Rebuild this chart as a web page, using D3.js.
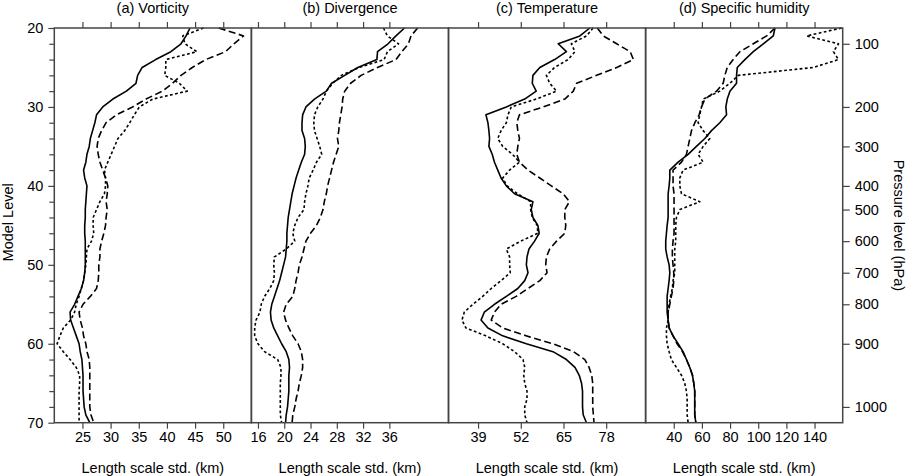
<!DOCTYPE html>
<html>
<head>
<meta charset="utf-8">
<script src="https://cdn.jsdelivr.net/npm/d3@7/dist/d3.min.js"></script>
<style>
  body { margin: 0; background: #fff; }
  text { font-family: "Liberation Sans", Arial, Helvetica, sans-serif; fill: #000; }
</style>
</head>
<body>
<svg id="chart" width="907" height="476"></svg>
<script>
// model levels (y categories)
var levels = [20,21,22,23,24,25,26,27,28,29,30,31,32,33,34,35,36,37,38,39,40,
              41,42,43,44,45,46,47,48,49,50,51,52,53,54,55,56,57,58,59,60,
              61,62,63,64,65,66,67,68,69,70];

// (a) vorticity
var vortSolid = [44.1,43.4,42.5,40.7,38.0,35.6,34.8,34.5,32.8,30.4,28.6,27.5,27.2,26.8,26.4,26.2,25.8,25.6,25.2,25.4,25.8,
                 25.7,25.6,25.5,25.5,25.4,25.4,25.5,25.5,25.5,25.5,25.4,25.2,24.8,24.2,23.6,22.8,22.9,23.4,23.9,24.4,
                 24.6,24.9,25.0,25.1,25.1,25.1,25.2,25.3,25.6,26.3];
var vortDash  = [49.2,53.6,51.9,50.4,46.9,44.5,42.5,41.0,39.2,36.3,33.9,31.0,29.2,28.4,27.8,27.6,27.8,28.1,28.6,29.1,29.5,
                 29.4,29.2,29.4,29.2,29.1,28.8,28.4,28.1,28.1,27.9,27.9,27.8,27.5,26.4,25.1,24.4,24.6,25.0,25.2,25.6,
                 25.8,26.2,26.3,26.3,26.3,26.3,26.3,26.3,26.5,27.0];
var vortDot   = [46.5,42.8,43.2,45.3,39.8,39.8,39.6,42.2,43.6,37.5,35.1,34.2,33.4,32.5,31.3,30.7,30.1,29.5,28.9,29.1,29.1,
                 28.9,28.1,27.5,26.9,26.9,27.0,26.6,25.8,25.7,25.6,25.4,25.2,24.8,24.4,23.9,23.6,22.9,21.6,21.0,20.5,
                 21.6,22.8,23.9,24.5,24.5,24.4,24.4,24.4,24.4,24.4];

// (b) divergence
var divSolid = [38.3,37.0,35.8,34.2,34.1,31.2,29.2,27.2,26.4,24.6,23.3,22.8,22.7,22.7,23.1,23.2,23.1,22.6,22.2,21.8,21.5,
                21.2,21.0,20.8,20.6,20.5,20.4,20.4,20.3,20.2,19.9,19.6,19.3,18.9,18.5,18.1,17.9,18.0,18.4,19.0,19.6,
                20.3,20.7,20.8,20.7,20.7,20.7,20.6,20.5,20.3,20.2];
var divDash  = [40.3,39.3,38.9,37.9,37.0,34.2,31.7,30.1,29.2,28.9,28.8,28.6,28.4,28.3,28.1,28.3,27.9,27.5,27.2,26.9,26.6,
                26.4,26.1,25.9,25.5,24.9,24.0,23.3,23.0,22.7,22.3,22.1,21.8,21.6,21.3,20.3,19.9,20.2,20.7,21.3,22.1,
                22.6,22.8,22.8,22.6,22.3,22.1,21.8,21.6,21.3,21.2];
var divDot   = [35.1,35.7,37.4,35.7,35.2,31.4,28.7,27.4,26.4,25.9,25.1,24.6,24.5,24.6,25.0,25.4,25.7,24.9,24.4,23.8,23.6,
                23.3,23.1,23.0,22.1,21.6,21.3,21.6,20.3,18.5,18.4,18.5,18.4,17.8,17.0,16.5,16.3,15.7,15.5,15.5,16.0,
                17.0,19.0,19.5,19.5,19.4,19.4,19.4,19.4,19.4,19.6];

// (c) temperature
var tempSolid = [73.0,70.0,63.4,65.9,62.3,57.8,55.7,55.5,56.7,53.2,47.6,41.4,42.0,42.3,42.5,42.3,43.3,44.0,45.0,46.0,47.6,
                 50.1,55.7,55.2,55.7,57.2,57.6,56.2,54.5,53.9,53.7,54.2,53.2,51.1,47.6,44.0,40.9,39.9,42.0,46.5,53.7,
                 61.8,65.9,68.5,69.8,70.5,70.8,70.8,70.8,71.0,72.0];
var tempDash  = [75.3,77.1,81.2,85.3,86.3,81.2,75.1,69.0,68.0,65.4,58.8,51.6,50.8,51.1,51.6,51.1,50.8,51.6,54.2,57.8,61.3,
                 64.9,66.8,65.4,65.4,65.7,65.4,62.9,60.8,59.8,59.6,60.0,57.8,54.2,50.6,46.0,44.0,43.0,46.5,53.7,61.8,
                 68.0,71.5,72.8,73.6,73.9,73.9,73.9,73.9,74.1,74.3];
var tempDot   = [74.0,72.0,67.4,68.5,66.4,62.3,59.8,60.8,62.9,56.7,49.1,48.1,47.6,46.0,45.0,46.5,49.5,51.6,48.6,46.5,47.8,
                 51.0,55.0,55.0,55.5,57.0,57.2,52.0,47.6,48.6,48.6,48.8,46.0,43.0,40.4,37.4,34.8,34.1,35.3,41.4,46.5,
                 50.1,52.7,53.2,52.9,53.2,53.9,53.9,53.2,53.2,53.9];

// (d) specific humidity
var humSolid = [111.9,110.7,103.6,96.5,90.5,85.1,84.6,84.6,79.9,78.0,77.0,77.5,72.7,66.8,62.1,56.1,50.2,43.1,37.2,37.2,36.7,
                36.0,36.0,36.0,36.0,35.3,34.8,34.3,34.3,35.3,36.7,37.2,36.7,36.0,35.3,35.3,35.3,36.0,36.7,39.5,43.1,
                46.6,49.0,51.4,53.3,54.2,54.9,54.9,54.9,54.9,55.7];
var humDash  = [111.9,106.0,96.5,87.0,82.2,78.0,76.3,75.1,70.4,62.1,59.7,58.0,55.0,52.6,51.4,50.2,49.0,45.5,39.5,39.5,39.5,
                40.2,40.2,40.2,40.2,40.2,40.2,39.5,39.0,39.0,39.5,40.0,40.0,39.5,38.3,37.2,36.0,36.0,36.7,39.5,42.4,
                46.2,49.0,51.4,53.3,54.2,54.9,54.9,54.9,54.9,55.7];
var humDot   = [159.3,134.4,157.0,153.4,157.0,139.2,85.8,79.9,72.7,60.9,59.7,58.5,57.3,60.9,65.6,60.9,57.3,60.9,46.6,44.3,44.3,
                45.5,58.5,44.3,41.9,41.4,41.4,41.4,40.7,40.7,40.7,40.7,39.5,39.0,37.7,36.7,36.0,36.0,34.8,34.8,35.3,
                36.7,38.3,41.9,45.5,47.8,49.0,49.5,49.5,49.5,50.2];

// titles, domains, tick labels
var panelTitles = ["(a) Vorticity", "(b) Divergence", "(c) Temperature", "(d) Specific humidity"];
var xDomains = [[20, 55], [15, 45], [30, 90], [20, 160]];
var xTicks = [[25,30,35,40,45,50], [16,20,24,28,32,36], [39,52,65,78], [40,60,80,100,120,140]];
var levelLabels = [20,30,40,50,60,70];
var levelMinor = [22,24,26,28,32,34,36,38,42,44,46,48,52,54,56,58,62,64,66,68];
var pressureLabels = [100,200,300,400,500,600,700,800,900,1000];
var pressureLevels = [22,30,35,40,43,47,51,55,60,68];

var panels = [
  {solid: vortSolid, dash: vortDash, dot: vortDot},
  {solid: divSolid,  dash: divDash,  dot: divDot},
  {solid: tempSolid, dash: tempDash, dot: tempDot},
  {solid: humSolid,  dash: humDash,  dot: humDot}
];

var plotLeft = 54.3, plotTop = 28, pw = 197.1, ph = 394.7;
var frameColor = "#444";
var fs = "14.5px";

var svg = d3.select("#chart");

var y = d3.scaleLinear().domain([20, 70]).range([plotTop, plotTop + ph]);

var styles = [
  {key: "solid", dash: null},
  {key: "dash",  dash: "7,3.5"},
  {key: "dot",   dash: "2.8,2.4"}
];

panels.forEach(function(p, i){
  var x0 = plotLeft + i * pw;
  var x = d3.scaleLinear().domain(xDomains[i]).range([x0, x0 + pw]);
  var g = svg.append("g");

  // bottom axis
  var bottom = g.append("g")
    .attr("transform", "translate(0," + (plotTop + ph) + ")")
    .call(d3.axisBottom(x).tickValues(xTicks[i]).tickSize(6).tickSizeOuter(0).tickPadding(3));
  bottom.select(".domain").remove();
  bottom.selectAll("line").attr("stroke", frameColor).attr("stroke-width", 1.2);
  bottom.selectAll("text").style("font-size", fs);

  // top axis
  var topAx = g.append("g")
    .attr("transform", "translate(0," + plotTop + ")")
    .call(d3.axisTop(x).tickValues(xTicks[i]).tickSize(6).tickSizeOuter(0).tickFormat(""));
  topAx.select(".domain").remove();
  topAx.selectAll("line").attr("stroke", frameColor).attr("stroke-width", 1.2);

  // lines
  styles.forEach(function(s){
    var line = d3.line()
      .x(function(d){ return x(d); })
      .y(function(d, j){ return y(levels[j]); });
    g.append("path")
      .datum(p[s.key])
      .attr("d", line)
      .attr("fill", "none")
      .attr("stroke", "#000")
      .attr("stroke-width", 1.6)
      .attr("stroke-linejoin", "round")
      .attr("stroke-dasharray", s.dash);
  });

  // frame
  g.append("rect")
    .attr("x", x0).attr("y", plotTop)
    .attr("width", pw).attr("height", ph)
    .attr("fill", "none")
    .attr("stroke", frameColor)
    .attr("stroke-width", 1.5);

  // title
  g.append("text")
    .attr("x", x0 + pw / 2).attr("y", 13)
    .attr("text-anchor", "middle")
    .style("font-size", fs)
    .text(panelTitles[i]);

  // x label
  g.append("text")
    .attr("x", x0 + pw / 2).attr("y", 473)
    .attr("text-anchor", "middle")
    .style("font-size", fs)
    .text("Length scale std. (km)");
});

// left axis, major + minor ticks
var leftAx = svg.append("g")
  .attr("transform", "translate(" + plotLeft + ",0)")
  .call(d3.axisLeft(y).tickValues(levelLabels).tickSize(6).tickSizeOuter(0).tickPadding(5));
leftAx.select(".domain").remove();
leftAx.selectAll("line").attr("stroke", frameColor).attr("stroke-width", 1.2);
leftAx.selectAll("text").style("font-size", fs);

var minorAx = svg.append("g")
  .attr("transform", "translate(" + plotLeft + ",0)")
  .call(d3.axisLeft(y).tickValues(levelMinor).tickSize(5).tickSizeOuter(0).tickFormat(""));
minorAx.select(".domain").remove();
minorAx.selectAll("line").attr("stroke", frameColor).attr("stroke-width", 1.2);

// right axis, pressure levels
var rightAx = svg.append("g")
  .attr("transform", "translate(" + (plotLeft + 4 * pw) + ",0)")
  .call(d3.axisRight(y).tickValues(pressureLevels).tickSize(7).tickSizeOuter(0).tickPadding(5)
    .tickFormat(function(d, i){ return pressureLabels[i]; }));
rightAx.select(".domain").remove();
rightAx.selectAll("line").attr("stroke", frameColor).attr("stroke-width", 1.2);
rightAx.selectAll("text").style("font-size", fs);

svg.append("text")
  .attr("transform", "translate(12.5," + (plotTop + ph / 2 - 3) + ") rotate(-90)")
  .attr("text-anchor", "middle")
  .style("font-size", fs)
  .text("Model Level");

svg.append("text")
  .attr("transform", "translate(894," + (plotTop + ph / 2) + ") rotate(90)")
  .attr("text-anchor", "middle")
  .style("font-size", fs)
  .text("Pressure level (hPa)");
</script>
</body>
</html>
